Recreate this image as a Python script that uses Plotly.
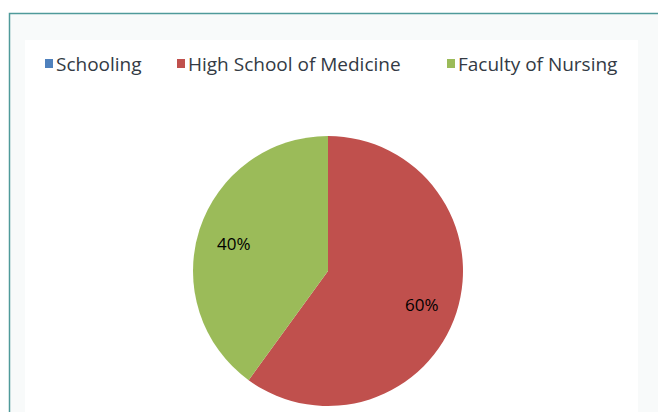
import math
import plotly.graph_objects as go

categories = ["Schooling", "High School of Medicine", "Faculty of Nursing"]
values = [0, 60, 40]
slice_text = ["", "60%", "40%"]
colors = ["#4f81bd", "#c0504d", "#9bbb59"]

W, H = 658, 412
cx, cy, r = 328, 271, 135

fig = go.Figure()
fig.add_trace(go.Pie(
    labels=categories,
    values=values,
    textinfo="none",
    sort=False,
    direction="clockwise",
    rotation=0,
    marker=dict(colors=colors, line=dict(width=0)),
    domain=dict(x=[(cx - r) / W, (cx + r) / W],
                y=[1 - (cy + r) / H, 1 - (cy - r) / H]),
    showlegend=False,
    hoverinfo="label+percent",
))

shapes = [
    dict(type="rect", xref="paper", yref="paper", layer="below",
         x0=9.5 / W, x1=1.02, y0=-0.02, y1=1 - 13.5 / H,
         line=dict(color="#4f9a9a", width=1.5), fillcolor="#f8fafa"),
    dict(type="rect", xref="paper", yref="paper", layer="below",
         x0=25 / W, x1=638 / W, y0=-0.02, y1=1 - 40 / H,
         line=dict(width=0), fillcolor="#ffffff"),
]
annotations = []

# slice labels placed along each slice's bisector (angles derived from the data)
total = sum(values)
cum = 0
for v, t in zip(values, slice_text):
    mid = (cum + v / 2) / total * 2 * math.pi
    cum += v
    if not t:
        continue
    px = cx + 0.73 * r * math.sin(mid)
    py = cy - 0.73 * r * math.cos(mid) + 3
    annotations.append(dict(text=t, xref="paper", yref="paper",
                            x=px / W, y=1 - py / H, xanchor="center", yanchor="middle",
                            showarrow=False,
                            font=dict(family="Open Sans", size=17, color="#000000")))

legend_x = [45, 177, 447]
for name, col, lx in zip(categories, colors, legend_x):
    shapes.append(dict(type="rect", xref="paper", yref="paper",
                       x0=lx / W, x1=(lx + 8) / W,
                       y0=1 - 68 / H, y1=1 - 59 / H,
                       line=dict(width=0), fillcolor=col))
    annotations.append(dict(text=name, xref="paper", yref="paper",
                            x=(lx + 9) / W, y=1 - 64 / H,
                            xanchor="left", yanchor="middle", showarrow=False,
                            font=dict(family="Open Sans", size=19, color="#333a44")))

fig.update_layout(
    width=W, height=H,
    margin=dict(l=0, r=0, t=0, b=0),
    paper_bgcolor="#ffffff",
    plot_bgcolor="#ffffff",
    shapes=shapes,
    annotations=annotations,
)

fig.write_html("out.html", config={"displayModeBar": False},
               post_script="document.body.style.margin='0';document.body.style.overflow='hidden';")
